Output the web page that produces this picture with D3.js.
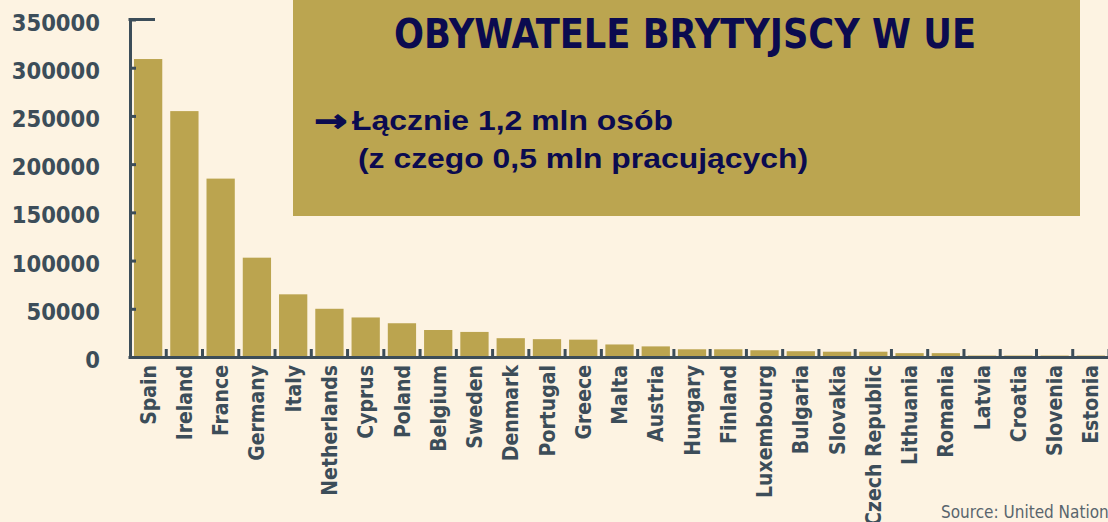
<!DOCTYPE html>
<html>
<head>
<meta charset="utf-8">
<script src="https://cdn.jsdelivr.net/npm/d3@7"></script>
<style>
  html, body { margin: 0; padding: 0; background: #fdf3e2; }
  svg { display: block; }
</style>
</head>
<body>
<div id="chart"></div>
<script>
"use strict";

// Data (approximate)
var countries = [
  'Spain', 'Ireland', 'France', 'Germany', 'Italy', 'Netherlands', 'Cyprus',
  'Poland', 'Belgium', 'Sweden', 'Denmark', 'Portugal', 'Greece', 'Malta',
  'Austria', 'Hungary', 'Finland', 'Luxembourg', 'Bulgaria', 'Slovakia',
  'Czech Republic', 'Lithuania', 'Romania', 'Latvia', 'Croatia', 'Slovenia', 'Estonia'
];
var residents = [
  309000, 255000, 185000, 103000, 65000, 50000, 41000,
  35000, 28000, 26000, 19500, 18500, 18000, 13000,
  11000, 8000, 8000, 7000, 6000, 5500,
  5500, 4000, 4000, 1500, 1500, 1500, 1500
];
var yTicks = [0, 50000, 100000, 150000, 200000, 250000, 300000, 350000];

var titleText = 'OBYWATELE BRYTYJSCY W UE';
var noteLines = ['Łącznie 1,2 mln osób', '(z czego 0,5 mln pracujących)'];
var sourceText = 'Source: United Nations';

var width = 1108;
var height = 522;
var ink = '#3c4d59';
var gold = '#bba44f';
var navy = '#0b0b4f';
var condensed = '"DejaVu Sans Condensed", "DejaVu Sans", sans-serif';

var svg = d3.select('#chart')
  .append('svg')
    .attr('width', width)
    .attr('height', height);

svg.append('rect')
  .attr('width', width)
  .attr('height', height)
  .attr('fill', '#fdf3e2');

var x = d3.scaleBand()
  .domain(countries)
  .range([130, 1109])
  .paddingInner(0.22)
  .paddingOuter(0.11);

var y = d3.scaleLinear()
  .domain([0, 350000])
  .range([357, 19.5]);

// Bars
svg.append('g')
  .selectAll('rect')
  .data(countries)
  .enter()
  .append('rect')
    .attr('x', function (d) { return x(d); })
    .attr('y', function (d, i) { return y(residents[i]); })
    .attr('width', x.bandwidth())
    .attr('height', function (d, i) { return y(0) - y(residents[i]); })
    .attr('fill', gold);

// Y axis, ticks pointing inward
var yAxis = svg.append('g')
  .attr('transform', 'translate(130,0)')
  .call(d3.axisLeft(y)
    .tickValues(yTicks)
    .tickSizeInner(-6)
    .tickSizeOuter(0)
    .tickPadding(30)
    .tickFormat(d3.format('d')));

yAxis.select('.domain').attr('stroke', ink).attr('stroke-width', 3);
yAxis.selectAll('.tick line').attr('stroke', ink).attr('stroke-width', 3);
yAxis.selectAll('.tick text')
  .attr('fill', ink)
  .attr('dy', '0.45em')
  .style('font-family', condensed)
  .style('font-weight', 'bold')
  .style('font-size', '23.5px');

// long cap at the top of the y axis
svg.append('line')
  .attr('x1', 128.5).attr('x2', 155)
  .attr('y1', y(350000)).attr('y2', y(350000))
  .attr('stroke', ink)
  .attr('stroke-width', 3);

// X axis baseline with small upward ticks between bars
svg.append('line')
  .attr('x1', 128.5).attr('x2', width)
  .attr('y1', y(0) + 0.5).attr('y2', y(0) + 0.5)
  .attr('stroke', ink)
  .attr('stroke-width', 3);

svg.append('g')
  .selectAll('line')
  .data(countries)
  .enter()
  .append('line')
    .attr('x1', function (d) { return x(d) + x.bandwidth() + x.step() * x.paddingInner() / 2; })
    .attr('x2', function (d) { return x(d) + x.bandwidth() + x.step() * x.paddingInner() / 2; })
    .attr('y1', y(0) - 8)
    .attr('y2', y(0))
    .attr('stroke', ink)
    .attr('stroke-width', 3);

// Country labels, rotated
svg.append('g')
  .selectAll('text')
  .data(countries)
  .enter()
  .append('text')
    .attr('transform', function (d) {
      return 'translate(' + (x(d) + x.bandwidth() / 2) + ',365) rotate(-90)';
    })
    .attr('text-anchor', 'end')
    .attr('dy', '0.36em')
    .attr('fill', ink)
    .style('font-family', condensed)
    .style('font-weight', 'bold')
    .style('font-size', '21px')
    .text(function (d) { return d; });

// Title box
svg.append('rect')
  .attr('x', 293)
  .attr('y', 0)
  .attr('width', 787)
  .attr('height', 216)
  .attr('fill', '#bba550');

svg.append('text')
  .attr('x', 394)
  .attr('y', 48)
  .attr('textLength', 582)
  .attr('lengthAdjust', 'spacingAndGlyphs')
  .attr('fill', navy)
  .style('font-family', '"Liberation Sans Narrow", "DejaVu Sans Condensed", sans-serif')
  .style('font-weight', 'bold')
  .style('font-size', '41px')
  .text(titleText);

svg.append('text')
  .attr('x', 314)
  .attr('y', 131)
  .attr('textLength', 33)
  .attr('lengthAdjust', 'spacingAndGlyphs')
  .attr('fill', navy)
  .attr('stroke', navy)
  .attr('stroke-width', 1.2)
  .style('font-family', '"DejaVu Sans", sans-serif')
  .style('font-weight', 'bold')
  .style('font-size', '30px')
  .text('→');

svg.append('g')
  .selectAll('text')
  .data(noteLines)
  .enter()
  .append('text')
    .attr('x', function (d, i) { return i === 0 ? 352 : 358; })
    .attr('y', function (d, i) { return i === 0 ? 130 : 168; })
    .attr('textLength', function (d, i) { return i === 0 ? 321 : 450; })
    .attr('lengthAdjust', 'spacingAndGlyphs')
    .attr('fill', navy)
    .style('font-family', '"Liberation Sans", Arial, sans-serif')
    .style('font-weight', 'bold')
    .style('font-size', '27px')
    .text(function (d) { return d; });

// Source note, cut by the right edge as in the original
svg.append('text')
  .attr('x', 941)
  .attr('y', 518)
  .attr('fill', '#59656d')
  .style('font-family', condensed)
  .style('font-size', '17px')
  .text(sourceText);
</script>
</body>
</html>
